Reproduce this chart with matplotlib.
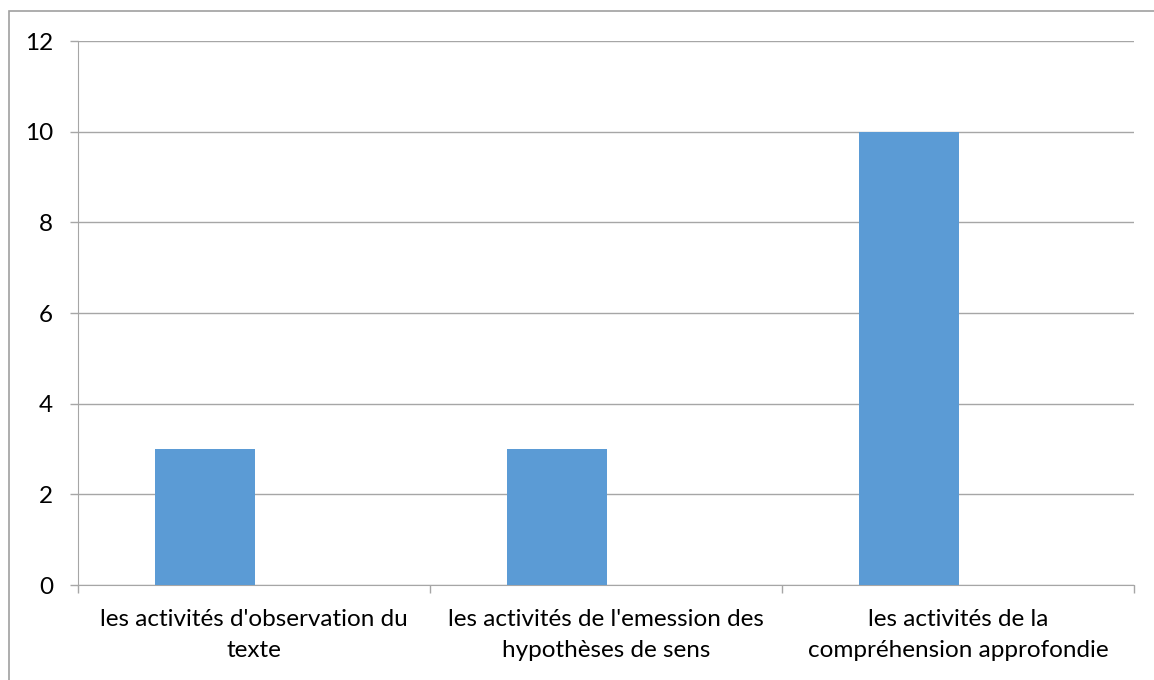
import matplotlib.pyplot as plt
from matplotlib.patches import Rectangle

categories = ["les activités d'observation du\ntexte",
              "les activités de l'emession des\nhypothèses de sens",
              "les activités de la\ncompréhension approfondie"]
values = [3, 3, 10]
yticks = [0, 2, 4, 6, 8, 10, 12]

plt.rcParams['font.family'] = ['Lato', 'DejaVu Sans']

W, H = 1154, 680
fig = plt.figure(figsize=(W / 100, H / 100), dpi=100)

# chart frame (only left/top visible in the crop)
fig.patches.append(Rectangle((9 / W, -0.1), 1.2, 1 - 11 / H + 0.1, transform=fig.transFigure,
                             fill=False, edgecolor='#a0a0a0', linewidth=1.2))

left, right, top, bottom = 78, 1134, 41, 585
ax = fig.add_axes([left / W, 1 - bottom / H, (right - left) / W, (bottom - top) / H])

x = list(range(len(categories)))
bar_x = [i - 0.14 for i in x]
ax.bar(bar_x, values, width=0.285, color='#5B9BD5', zorder=3)

ax.set_xlim(-0.5, len(categories) - 0.5)
ax.set_ylim(0, 12)
ax.set_yticks(yticks)
ax.set_yticklabels([str(v) for v in yticks], fontsize=17.5)
ax.yaxis.grid(True, color='#a6a6a6', linewidth=1)
ax.set_axisbelow(True)

# category labels at centres, tick marks at boundaries
ax.set_xticks(x)
ax.set_xticklabels(categories, fontsize=17.5, linespacing=1.6)
ax.tick_params(axis='x', length=0, pad=17)
ax.set_xticks([i - 0.5 for i in range(len(categories) + 1)], minor=True)
ax.tick_params(axis='x', which='minor', length=6, color='#a6a6a6', width=1)
ax.tick_params(axis='y', length=6, color='#a6a6a6', width=1, pad=12)

for s in ['top', 'right']:
    ax.spines[s].set_visible(False)
ax.spines['left'].set_color('#a6a6a6')
ax.spines['bottom'].set_color('#a6a6a6')

fig.savefig('out.png', dpi=100)
